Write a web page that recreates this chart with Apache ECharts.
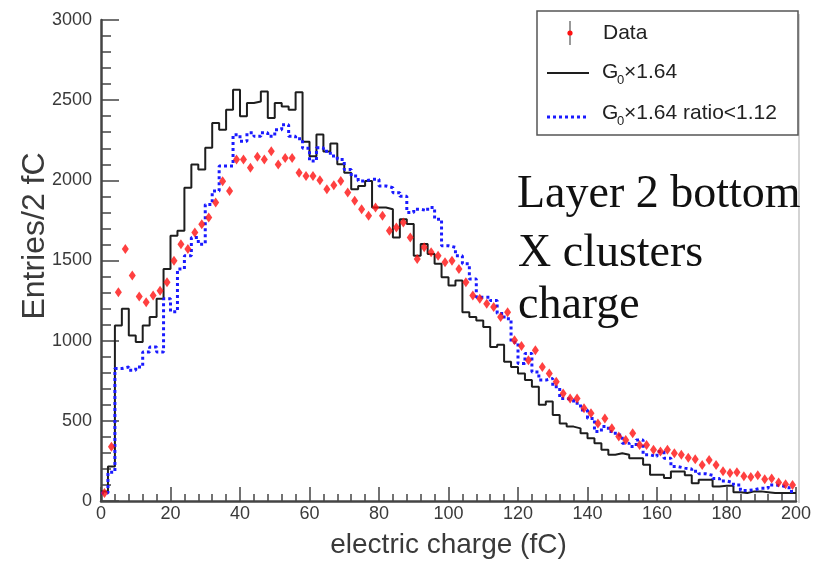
<!DOCTYPE html>
<html lang="en">
<head>
<meta charset="UTF-8">
<title>Layer 2 bottom X clusters charge</title>
<script src="https://cdn.jsdelivr.net/npm/echarts@6.0.0/dist/echarts.min.js"></script>
<style>
  html, body { margin: 0; padding: 0; background: #fff; }
</style>
</head>
<body>
<div id="chart" style="width:815px;height:564px;"></div>
<script>
// histogram bins: 0..200 fC, 2 fC wide
var binWidth = 2;
var xTicks = [0, 20, 40, 60, 80, 100, 120, 140, 160, 180, 200];
var yTicks = [0, 500, 1000, 1500, 2000, 2500, 3000];

// Data (red points)
var dataCounts = [
  50, 339, 1302, 1571, 1406, 1275, 1240, 1281, 1312, 1364,
  1499, 1602, 1571, 1675, 1726, 1768, 1861, 1995, 1933, 2130,
  2130, 2078, 2147, 2130, 2182, 2099, 2140, 2140, 2047, 2027,
  2027, 2000, 1944, 1970, 1996, 1924, 1872, 1820, 1779, 1830,
  1779, 1686, 1706, 1737, 1644, 1510, 1582, 1551, 1530, 1489,
  1499, 1447, 1365, 1282, 1261, 1230, 1210, 1147, 1178, 1002,
  967, 878, 940, 836, 795, 743, 671, 640, 640, 578,
  547, 484, 515, 453, 402, 381, 422, 350, 350, 319,
  309, 319, 298, 288, 270, 260, 225, 255, 225, 185,
  175, 180, 155, 150, 160, 135, 140, 115, 105, 100
];

// G0 x 1.64 (black histogram)
var simG0 = [
  60, 215, 1095, 1199, 1033, 991, 1095, 1147, 1261, 1447,
  1654, 1685, 1954, 2099, 2068, 2203, 2358, 2316, 2441, 2565,
  2399, 2482, 2492, 2554, 2389, 2482, 2461, 2441, 2550, 2240,
  2150, 2286, 2180, 2230, 2100, 2047, 1944, 1965, 1996, 1830,
  1830, 1820, 1644, 1758, 1727, 1530, 1603, 1541, 1479, 1396,
  1344, 1375, 1178, 1147, 1126, 1085, 960, 975, 869, 836,
  795, 754, 712, 600, 620, 536, 484, 464, 453, 422,
  391, 360, 319, 288, 298, 288, 267, 267, 226, 164,
  164, 143, 184, 184, 160, 110, 132, 132, 91, 95,
  95, 55, 50, 60, 60, 55, 50, 50, 50, 50
];

// G0 x 1.64 ratio<1.12 (blue dotted histogram)
var simRatio = [
  50, 180, 826, 836, 816, 836, 930, 960, 930, 1261,
  1180, 1447, 1530, 1644, 1602, 1850, 1933, 2089, 2089, 2285,
  2244, 2296, 2275, 2296, 2275, 2316, 2347, 2275, 2260, 2200,
  2120, 2203, 2182, 2151, 2130, 2068, 2027, 1996, 2006, 2006,
  1965, 1954, 1923, 1900, 1799, 1820, 1810, 1830, 1758, 1592,
  1582, 1530, 1479, 1385, 1271, 1271, 1250, 1170, 1137, 990,
  857, 920, 805, 754, 764, 712, 640, 630, 609, 567,
  515, 433, 464, 433, 412, 360, 340, 381, 288, 277,
  309, 267, 215, 205, 200, 185, 170, 160, 140, 125,
  115, 100, 65, 70, 80, 80, 100, 95, 85, 60
];

function histPoints(arr) {
  var pts = arr.map(function (v, i) { return [i * binWidth, v]; });
  pts.push([arr.length * binWidth, arr[arr.length - 1]]);
  return pts;
}
function centerPoints(arr) {
  return arr.map(function (v, i) { return [i * binWidth + binWidth / 2, v]; });
}

var chart = echarts.init(document.getElementById('chart'));
var font = 'Liberation Sans, Arial, sans-serif';
var serif = '"Liberation Serif", "DejaVu Serif", serif';
var axisColor = '#444';
var textColor = '#3a3a3a';
var legendFont = '21px ' + font;
var subFont = '13px ' + font;

var option = {
  backgroundColor: '#fff',
  animation: false,
  grid: { left: 101, right: 19, top: 20, bottom: 61 },
  xAxis: {
    type: 'value',
    min: xTicks[0],
    max: xTicks[xTicks.length - 1],
    interval: xTicks[1] - xTicks[0],
    name: 'electric charge (fC)',
    nameLocation: 'middle',
    nameGap: 30,
    nameTextStyle: { fontSize: 28, color: textColor, fontFamily: font },
    axisLine: { lineStyle: { color: axisColor, width: 2.5 } },
    axisTick: { inside: true, length: 14, lineStyle: { color: axisColor, width: 1.5 } },
    minorTick: { show: true, splitNumber: 5, length: 7, lineStyle: { color: axisColor, width: 1.5 } },
    axisLabel: { fontSize: 18, color: textColor, margin: 4, fontFamily: font },
    splitLine: { show: false }
  },
  yAxis: {
    type: 'value',
    min: yTicks[0],
    max: yTicks[yTicks.length - 1],
    interval: yTicks[1] - yTicks[0],
    axisLine: { lineStyle: { color: axisColor, width: 2.5 } },
    axisTick: { inside: true, length: 18, lineStyle: { color: axisColor, width: 1.5 } },
    minorTick: { show: true, splitNumber: 5, length: 10, lineStyle: { color: axisColor, width: 1.5 } },
    axisLabel: {
      fontSize: 18, color: textColor, margin: 9, fontFamily: font,
      formatter: function (v) { return String(v); }
    },
    splitLine: { show: false }
  },
  series: [
    {
      name: 'G0x1.64',
      type: 'line',
      step: 'end',
      showSymbol: false,
      symbol: 'none',
      lineStyle: { color: '#1e1e1e', width: 2 },
      data: histPoints(simG0),
      z: 2
    },
    {
      name: 'G0x1.64 ratio<1.12',
      type: 'line',
      step: 'end',
      showSymbol: false,
      symbol: 'none',
      lineStyle: { color: '#1a1aff', width: 3, type: [3, 3] },
      data: histPoints(simRatio),
      z: 3
    },
    {
      name: 'Data',
      type: 'scatter',
      symbol: 'diamond',
      symbolSize: [7, 10],
      itemStyle: { color: '#ff1010' },
      data: centerPoints(dataCounts),
      z: 4
    }
  ],
  graphic: [
    // y axis title
    {
      type: 'text', x: 35, y: 236, rotation: Math.PI / 2,
      style: { text: 'Entries/2 fC', font: '32px ' + font, fill: textColor, align: 'center', verticalAlign: 'middle' }
    },
    // right frame edge
    { type: 'line', shape: { x1: 799, y1: 14, x2: 799, y2: 503 }, style: { stroke: '#c4c4c4', lineWidth: 1.5 }, silent: true },
    // Layer text
    { type: 'text', left: 517, top: 172, style: { text: 'Layer 2 bottom', font: '46px ' + serif, fill: '#111' } },
    { type: 'text', left: 518, top: 231, style: { text: 'X clusters', font: '46px ' + serif, fill: '#111' } },
    { type: 'text', left: 518, top: 283, style: { text: 'charge', font: '46px ' + serif, fill: '#111' } },
    // legend box
    {
      type: 'group',
      children: [
        { type: 'rect', shape: { x: 537, y: 11, width: 261, height: 124 }, style: { fill: '#fff', stroke: '#555', lineWidth: 1.5 }, z: 10 },
        { type: 'line', shape: { x1: 570, y1: 21, x2: 570, y2: 45 }, style: { stroke: '#777', lineWidth: 1.5 }, z: 11 },
        { type: 'circle', shape: { cx: 570, cy: 33, r: 2.6 }, style: { fill: '#ff1010' }, z: 12 },
        { type: 'text', x: 603, y: 33, style: { text: 'Data', font: legendFont, fill: '#222', verticalAlign: 'middle' }, z: 11 },
        { type: 'line', shape: { x1: 547, y1: 73, x2: 589, y2: 73 }, style: { stroke: '#1e1e1e', lineWidth: 2 }, z: 11 },
        { type: 'text', x: 602, y: 72, style: { text: 'G', font: legendFont, fill: '#222', verticalAlign: 'middle' }, z: 11 },
        { type: 'text', x: 617, y: 80, style: { text: '0', font: subFont, fill: '#222', verticalAlign: 'middle' }, z: 11 },
        { type: 'text', x: 624, y: 72, style: { text: '×1.64', font: legendFont, fill: '#222', verticalAlign: 'middle' }, z: 11 },
        { type: 'line', shape: { x1: 547, y1: 117, x2: 589, y2: 117 }, style: { stroke: '#1a1aff', lineWidth: 3, lineDash: [3, 3] }, z: 11 },
        { type: 'text', x: 602, y: 113, style: { text: 'G', font: legendFont, fill: '#222', verticalAlign: 'middle' }, z: 11 },
        { type: 'text', x: 617, y: 121, style: { text: '0', font: subFont, fill: '#222', verticalAlign: 'middle' }, z: 11 },
        { type: 'text', x: 624, y: 113, style: { text: '×1.64 ratio<1.12', font: legendFont, fill: '#222', verticalAlign: 'middle' }, z: 11 }
      ]
    }
  ]
};

chart.setOption(option);
</script>
</body>
</html>
